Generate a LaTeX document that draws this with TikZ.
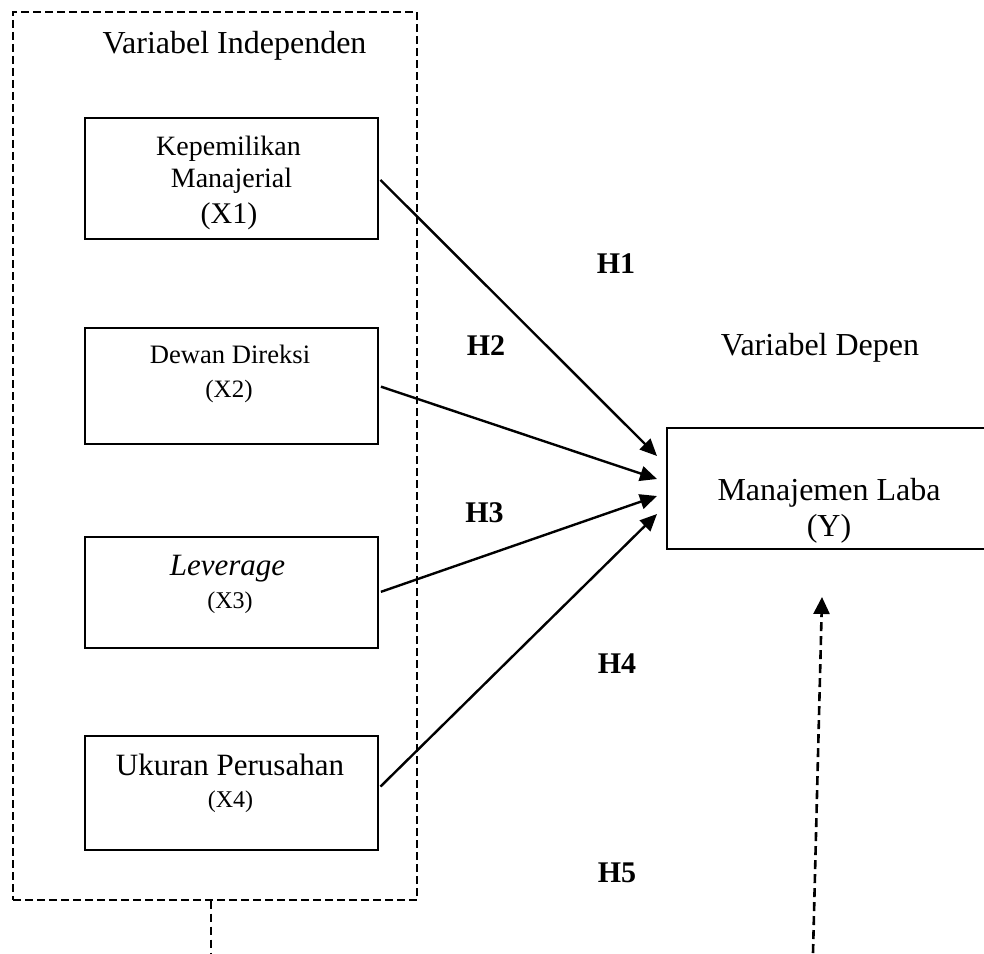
\documentclass[tikz,border=0pt]{standalone}
\usepackage{fontspec}
\setmainfont{Liberation Serif}
\usepackage{tikz}
\usetikzlibrary{arrows.meta,positioning}

\begin{document}
\begin{tikzpicture}[x=0.5pt,y=-0.5pt,
    varbox/.style={draw,line width=1pt,minimum width=146.5pt,inner sep=0pt},
    groupbox/.style={draw,dashed,dash pattern=on 4pt off 2pt,line width=0.7pt,
      minimum width=202pt,minimum height=444pt,inner sep=0pt},
    txtL/.style={anchor=base,inner sep=0pt,font=\fontsize{16}{19}\selectfont},
    txtM/.style={anchor=base,inner sep=0pt,font=\fontsize{14}{17}\selectfont},
    txtS/.style={anchor=base,inner sep=0pt,font=\fontsize{12.5}{15}\selectfont},
    hyp/.style={anchor=base,inner sep=0pt,font=\fontsize{15}{18}\selectfont\bfseries},
    path/.style={-{Triangle[length=8.5pt,width=7.5pt]},line width=1.2pt,shorten <=1pt},
    mod/.style={-{Triangle[length=8.5pt,width=8pt]},line width=1.3pt,dash pattern=on 4.5pt off 2.5pt}]
\useasboundingbox (0,0) rectangle (984,953);

% kelompok variabel independen
\node[groupbox] (indep) at (215,456) {};
\node[txtL] (indeptitle) at (234.5,53) {Variabel Independen};

\node[varbox,minimum height=60.5pt] (x1) at (231.5,178.5) {};
\node[txtM] (x1a) at (228.5,155) {Kepemilikan};
\node[txtM] (x1b) at (231.5,187) {Manajerial};
\node[txtL,font=\fontsize{15}{18}\selectfont] (x1c) at (229,223) {(X1)};

\node[varbox,minimum height=58pt] (x2) at (231.5,386) {};
\node[txtM,font=\fontsize{13.3}{16}\selectfont] (x2a) at (230,363) {Dewan Direksi};
\node[txtS] (x2b) at (229,397) {(X2)};

\node[varbox,minimum height=55.5pt] (x3) at (231.5,592.5) {};
\node[txtL,font=\fontsize{15.5}{18}\selectfont\itshape] (x3a) at (227.5,575) {Leverage};
\node[txtS,font=\fontsize{12}{14}\selectfont] (x3b) at (230,608) {(X3)};

\node[varbox,minimum height=57pt] (x4) at (231.5,793) {};
\node[txtL,font=\fontsize{15.5}{18}\selectfont] (x4a) at (230,775) {Ukuran Perusahan};
\node[txtS,font=\fontsize{12}{14}\selectfont] (x4b) at (230.5,807) {(X4)};

% variabel dependen
\node[txtL] (deptitle) at (820,355) {Variabel Depen};
\node[varbox,minimum width=162.5pt,minimum height=60.5pt] (y) at (829.5,488.5) {};
\node[txtL] (ya) at (829,500) {Manajemen Laba};
\node[txtL] (yb) at (829,536) {(Y)};

% hipotesis
\node[hyp] (h1) at (616,273) {H1};
\node[hyp] (h2) at (486,355) {H2};
\node[hyp] (h3) at (484.5,522) {H3};
\node[hyp] (h4) at (617,673) {H4};
\node[hyp] (h5) at (617,882) {H5};

\coordinate (e1) at (657,456);
\coordinate (e2) at (657,479);
\coordinate (e3) at (657,496);
\coordinate (e4) at (657,514);
\draw[path] (x1.east) -- (e1);
\draw[path] (x2.east) -- (e2);
\draw[path] (x3.east) -- (e3);
\draw[path] ([yshift=2.5pt]x4.east) -- (e4);

% simultan
\coordinate (drop) at (211,953);
\draw[line width=0.9pt,dash pattern=on 4pt off 2.5pt] (drop |- indep.south) -- (drop);
\coordinate (modfoot) at (813,953);
\coordinate (modtip) at (822,597);
\draw[mod] (modfoot) -- (modtip);

\end{tikzpicture}
\end{document}
